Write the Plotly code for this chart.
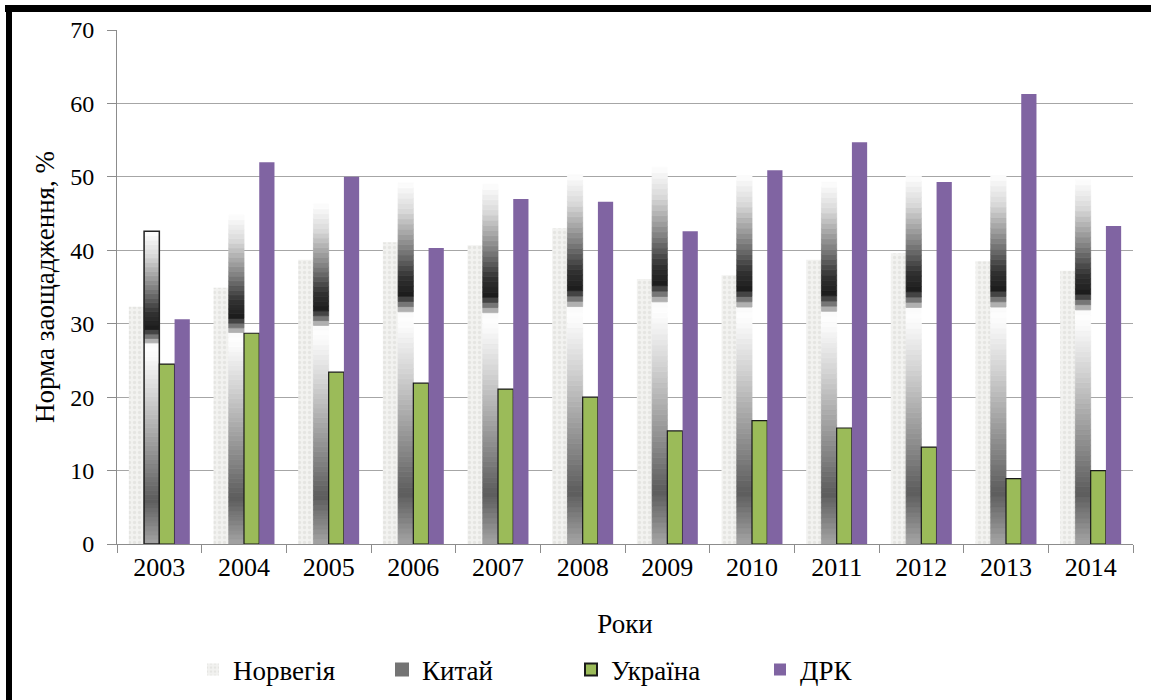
import plotly.graph_objects as go

years = ["2003", "2004", "2005", "2006", "2007", "2008", "2009", "2010", "2011", "2012", "2013", "2014"]
norway = [32.3, 34.9, 38.7, 41.1, 40.7, 43.0, 36.1, 36.6, 38.7, 39.6, 38.5, 37.2]
china = [42.6, 44.8, 46.3, 49.2, 49.0, 50.3, 51.3, 50.2, 49.3, 50.1, 50.2, 49.6]
ukraine = [24.5, 28.7, 23.4, 21.9, 21.1, 20.0, 15.4, 16.8, 15.8, 13.2, 8.9, 10.0]
drc = [30.6, 52.0, 50.0, 40.3, 47.0, 46.6, 42.6, 50.9, 54.7, 49.3, 61.3, 43.3]
series_names = ["Норвегія", "Китай", "Україна", "ДРК"]

FONT = "Liberation Serif, Times New Roman, serif"

# gradient stops for the China bars (fraction of bar height -> gray level)
stops = [(0.00, 165), (0.14, 92), (0.30, 150), (0.48, 212), (0.60, 250), (0.635, 255),
         (0.655, 150), (0.69, 28), (0.74, 50), (0.82, 130), (0.92, 215), (1.00, 255)]


def gray_at(f):
    for (f0, g0), (f1, g1) in zip(stops[:-1], stops[1:]):
        if f0 <= f <= f1:
            t = (f - f0) / (f1 - f0) if f1 > f0 else 0
            g = int(round(g0 + (g1 - g0) * t))
            return f"rgb({g},{g},{g})"
    return "rgb(255,255,255)"


fig = go.Figure()

fig.add_trace(go.Bar(
    x=years, y=norway, name=series_names[0], offsetgroup="no", legendrank=1,
    marker=dict(color="#eeeeec", line=dict(width=0),
                pattern=dict(shape=".", fgcolor="#d8d8d4", bgcolor="#f2f2f0", size=5, solidity=0.35)),
))

N = 70
legend_slice = 14
for i in range(N):
    f0, f1 = i / N, (i + 1) / N
    col = gray_at((f0 + f1) / 2)
    fig.add_trace(go.Bar(
        x=years, y=[v * (f1 - f0) for v in china], base=[v * f0 for v in china],
        offsetgroup="cn", name=series_names[1], legendrank=2,
        showlegend=(i == legend_slice),
        marker=dict(color=col, line=dict(width=0.8, color=col)),
        hoverinfo="skip" if i != legend_slice else None,
    ))
# outline on the first China bar
fig.add_trace(go.Bar(
    x=years, y=china, offsetgroup="cn", showlegend=False, hoverinfo="skip",
    marker=dict(color="rgba(0,0,0,0)",
                line=dict(width=1.5, color=["#222222"] + ["rgba(0,0,0,0)"] * (len(years) - 1))),
))

fig.add_trace(go.Bar(
    x=years, y=ukraine, name=series_names[2], offsetgroup="ua", legendrank=3,
    marker=dict(color="#9bbb59", line=dict(width=1.2, color="#1a1a1a")),
))
fig.add_trace(go.Bar(
    x=years, y=drc, name=series_names[3], offsetgroup="drc", legendrank=4,
    marker=dict(color="#8064a2", line=dict(width=0)),
))

L, R, T, B = 117, 18, 30, 156
W, H = 1151, 700
pw, ph = W - L - R, H - T - B


def px_x(px):
    return (px - L) / pw


def px_y(py):
    return (H - B - py) / ph


shapes = [
    dict(type="rect", xref="paper", yref="paper", x0=px_x(5), x1=px_x(1160), y0=px_y(12), y1=px_y(5),
         fillcolor="black", line=dict(width=0), layer="above"),
    dict(type="rect", xref="paper", yref="paper", x0=px_x(6), x1=px_x(12), y0=px_y(710), y1=px_y(5),
         fillcolor="black", line=dict(width=0), layer="above"),
]

fig.update_layout(
    width=W, height=H,
    margin=dict(l=L, r=R, t=T, b=B, autoexpand=False),
    paper_bgcolor="white", plot_bgcolor="white",
    barmode="group", bargap=0.28, bargroupgap=0,
    font=dict(family=FONT, color="black", size=24),
    shapes=shapes,
    legend=dict(orientation="h", x=px_x(193), xanchor="left", y=px_y(670), yanchor="middle",
                entrywidth=144, entrywidthmode="pixels", font=dict(size=27, family=FONT),
                itemsizing="constant", traceorder="normal", bgcolor="rgba(0,0,0,0)"),
    xaxis=dict(type="category", showline=True, linecolor="#8c8c8c", linewidth=1,
               ticks="outside", tickson="boundaries", ticklen=8, tickcolor="#8c8c8c",
               tickfont=dict(size=26, family=FONT), showgrid=False, automargin=False,
               title=dict(text="Роки", font=dict(size=27, family=FONT), standoff=32)),
    yaxis=dict(range=[0, 70], dtick=10, showline=True, linecolor="#8c8c8c", linewidth=1,
               ticks="outside", ticklen=9, tickcolor="#8c8c8c", ticklabelstandoff=8,
               gridcolor="#a6a6a6", gridwidth=1, zeroline=False, automargin=False,
               tickfont=dict(size=24, family=FONT),
               title=dict(text="Норма заощадження, %", font=dict(size=27, family=FONT), standoff=7)),
)

fig.write_html("out.html", config={"displayModeBar": False},
               post_script="document.body.style.margin='0';")
